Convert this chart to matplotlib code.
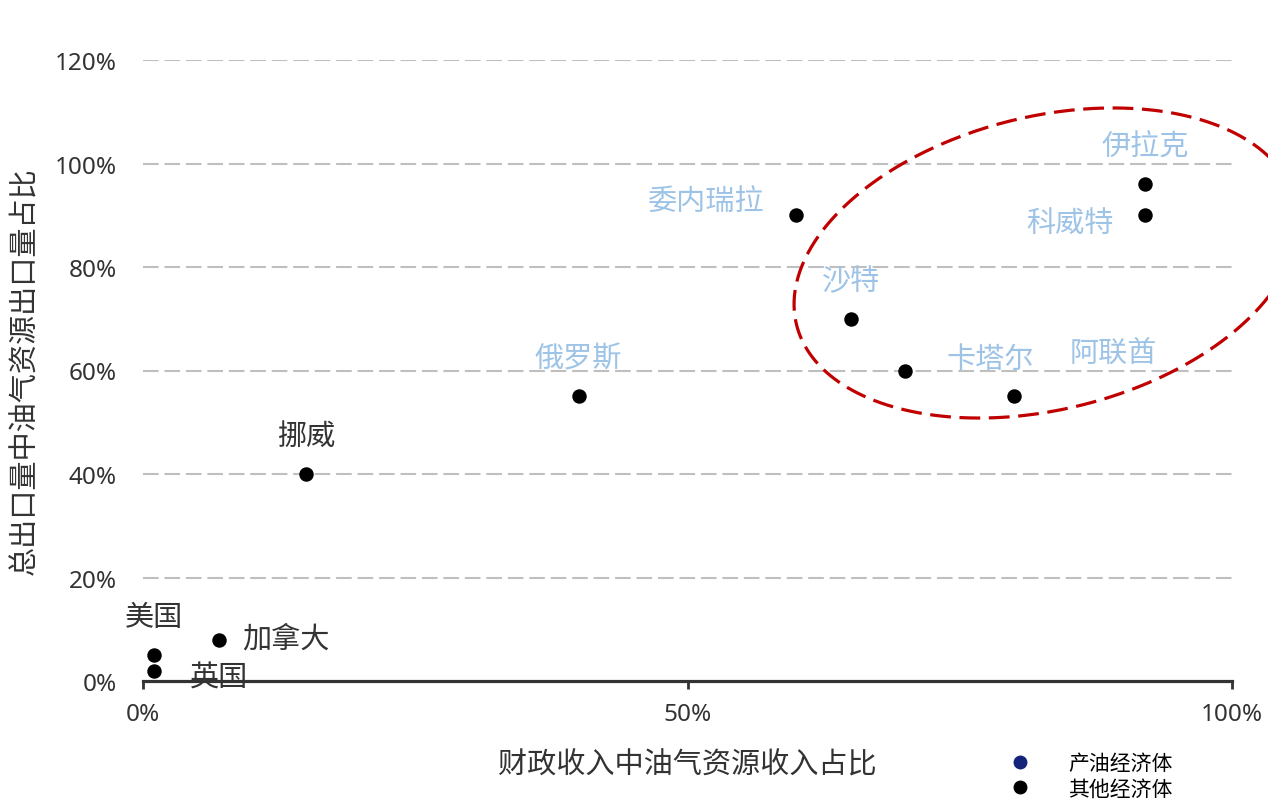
import numpy as np
import matplotlib
matplotlib.use('Agg')
import matplotlib.pyplot as plt
from matplotlib.lines import Line2D

plt.rcParams['font.family'] = ['Noto Sans CJK SC', 'DejaVu Sans']

# 数据：财政收入中油气资源收入占比 (x) 与 总出口量中油气资源出口量占比 (y)
countries = ['美国', '英国', '加拿大', '挪威', '俄罗斯', '委内瑞拉', '沙特', '阿联酋', '卡塔尔', '伊拉克', '科威特']
fiscal_share = [1, 1, 7, 15, 40, 60, 65, 70, 80, 92, 92]
export_share = [5, 2, 8, 40, 55, 90, 70, 60, 55, 96, 90]
is_producer = [False, False, False, False, True, True, True, True, True, True, True]

x_ticks = [0, 50, 100]
y_ticks = [0, 20, 40, 60, 80, 100, 120]

# 标签相对点的偏移（像素）
label_offsets = [(0, 38), (65, -7), (67, 1), (0, 38), (0, 38), (-90, 13),
                 (0, 38), (208, 18), (-24, 37), (0, 38), (-75, -8)]

PRODUCER_TXT = '#9DC3E6'
OTHER_TXT = '#333333'
TICK_FONT = ['Noto Sans', 'DejaVu Sans']

fig = plt.figure(figsize=(12.68, 8.03), dpi=100)
ax = fig.add_axes([143 / 1268, 121 / 803, 1089 / 1268, 621 / 803])

ax.set_xlim(0, 100)
ax.set_ylim(0, 120)

# 网格线
for yv in y_ticks[1:]:
    ax.axhline(yv, color='#BFBFBF', lw=1.5, linestyle=(0, (7.5, 2.8)), zorder=1)

ax.plot(fiscal_share, export_share, 'o', color='black', markersize=9.4, linestyle='none', zorder=3)

for name, xv, yv, prod, off in zip(countries, fiscal_share, export_share, is_producer, label_offsets):
    ax.annotate(name, (xv, yv), xytext=off, textcoords='offset pixels',
                ha='center', va='center', fontsize=21,
                color=PRODUCER_TXT if prod else OTHER_TXT, zorder=4)

# 红色虚线椭圆（按像素画，再换算为数据坐标）
px_x = 1089 / 100
px_y = 621 / 120
cx, cy = (1046 - 143) / px_x, (682 - 264) / px_y
a, b, theta = 257, 146.5, np.deg2rad(13.9)
t = np.linspace(0, 2 * np.pi, 400)
dx = a * np.cos(t) * np.cos(theta) - b * np.sin(t) * np.sin(theta)
dy = a * np.cos(t) * np.sin(theta) + b * np.sin(t) * np.cos(theta)
ax.plot(cx + dx / px_x, cy + dy / px_y, color='#C00000', lw=2.3,
        linestyle=(0, (6.5, 2.7)), clip_on=False, zorder=2)

# 坐标轴
for side in ['top', 'right', 'left']:
    ax.spines[side].set_visible(False)
ax.spines['bottom'].set_color('#333333')
ax.spines['bottom'].set_linewidth(2.3)
ax.spines['bottom'].set_zorder(5)

ax.set_xticks(x_ticks)
ax.set_xticklabels([f'{v}%' for v in x_ticks], family=TICK_FONT)
ax.set_yticks(y_ticks)
ax.set_yticklabels([f'{v}%' for v in y_ticks], family=TICK_FONT)
ax.tick_params(axis='x', direction='out', length=6, width=2, color='#333333',
               labelsize=17.5, labelcolor='#333333', pad=9)
ax.tick_params(axis='y', length=0, labelsize=17.5, labelcolor='#333333', pad=19)

ax.set_xlabel('财政收入中油气资源收入占比', fontsize=21, color='#333333', labelpad=17)
ax.set_ylabel('总出口量中油气资源出口量占比', fontsize=21, color='#333333', labelpad=10)

handles = [Line2D([], [], marker='o', color='#14237A', linestyle='none', markersize=9),
           Line2D([], [], marker='o', color='black', linestyle='none', markersize=9)]
fig.legend(handles, ['产油经济体', '其他经济体'], loc='center left',
           bbox_to_anchor=(997 / 1268, 1 - 777 / 803), frameon=False, fontsize=15,
           handletextpad=1.7, labelspacing=0.15, borderpad=0, handlelength=1.2)

fig.savefig('out.png', dpi=100)
